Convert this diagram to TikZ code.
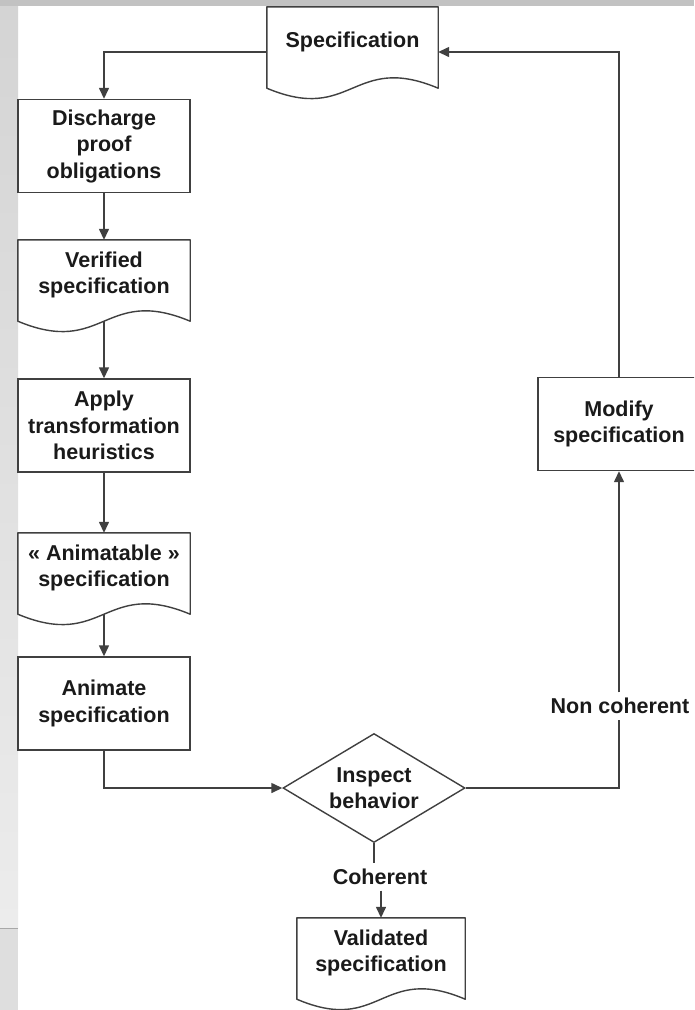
\documentclass[tikz,border=0pt]{standalone}
\usepackage{fontspec}
\setmainfont{Liberation Sans}
\usetikzlibrary{shapes.geometric,arrows.meta}
\definecolor{linec}{HTML}{404040}
\definecolor{txt}{HTML}{1A1A1A}
\definecolor{bandgray}{HTML}{C2C2C2}
\definecolor{stripA}{HTML}{D4D4D4}
\definecolor{stripB}{HTML}{ECECEC}
\definecolor{stripC}{HTML}{DEDEDE}
\definecolor{stripline}{HTML}{A8A8A8}
\tikzset{
  base/.style={font=\bfseries\fontsize{21.5}{26.5}\selectfont, text=txt, align=center},
  proc/.style={base, draw=linec, line width=1.4pt, minimum width=172pt, minimum height=93pt, inner sep=0pt},
  docbox/.style={base, minimum height=70pt, inner sep=0pt},
  decision/.style={base, draw=linec, line width=1.4pt, diamond, aspect=1.67, minimum width=182pt, minimum height=109pt, inner sep=0pt},
  lbl/.style={base, inner sep=0pt, minimum height=27pt},
  conn/.style={draw=linec, line width=1.4pt},
  arr/.style={conn, -{Triangle[length=11pt,width=10pt]}},
}
\newcommand\docoutline[1]{\draw[conn, line join=round] (#1.north west) -- (#1.north east) -- ([yshift=-11pt]#1.south east) .. controls ([yshift=25pt]#1.south) and ([yshift=-47pt]#1.south) .. ([yshift=-11pt]#1.south west) -- cycle;}
\begin{document}
\begin{tikzpicture}[x=1pt,y=-1pt]
\useasboundingbox (0,0) rectangle (694,1010);
\clip (0,0) rectangle (694,1010);
% background
\fill[white] (0,0) rectangle (694,1010);
\shade[top color=stripA, bottom color=stripB] (0,0) rectangle (18,928);
\fill[stripC] (0,928) rectangle (18,1010);
\draw[stripline, line width=1pt] (0,928) -- (18,928);
\fill[bandgray] (0,0) rectangle (694,6);

% nodes
\node[docbox, minimum width=171pt] (spec) at (352.5,42) {Specification};
\docoutline{spec}
\node[proc] (disch) at (104,146) {Discharge\\proof\\obligations};
\node[docbox, minimum width=172pt] (verif) at (104,275) {Verified\\specification};
\docoutline{verif}
\node[proc] (apply) at (104,425.5) {Apply\\transformation\\heuristics};
\node[docbox, minimum width=172pt] (anim) at (104,568) {« Animatable »\\specification};
\docoutline{anim}
\node[proc] (animate) at (104,703.5) {Animate\\specification};
\node[decision] (insp) at (374,788) {Inspect\\behavior};
\node[lbl] (coh) at (380,877) {Coherent};
\node[docbox, minimum width=168pt] (valid) at (381,953) {Validated\\specification};
\docoutline{valid}
\node[lbl] (noncoh) at (620,706) {Non coherent};
\node[proc, minimum width=162pt] (modify) at (619,424) {Modify\\specification};

% connectors
\draw[arr] ([yshift=-10pt]spec.west) -| (disch.north);
\draw[arr] (disch.south) -- (verif.north);
\draw[arr] ([yshift=-11pt]verif.south) -- (apply.north);
\draw[arr] (apply.south) -- (anim.north);
\draw[arr] ([yshift=-11pt]anim.south) -- (animate.north);
\draw[arr] (animate.south) |- (insp.west);
\draw[conn] (insp.south) -- (insp.south |- coh.north);
\draw[arr] (valid.north |- coh.south) -- (valid.north);
\draw[conn] (insp.east) -| (modify.south |- noncoh.south);
\draw[arr] (modify.south |- noncoh.north) -- (modify.south);
\draw[arr] (modify.north) |- ([yshift=-10pt]spec.east);
\end{tikzpicture}
\end{document}
